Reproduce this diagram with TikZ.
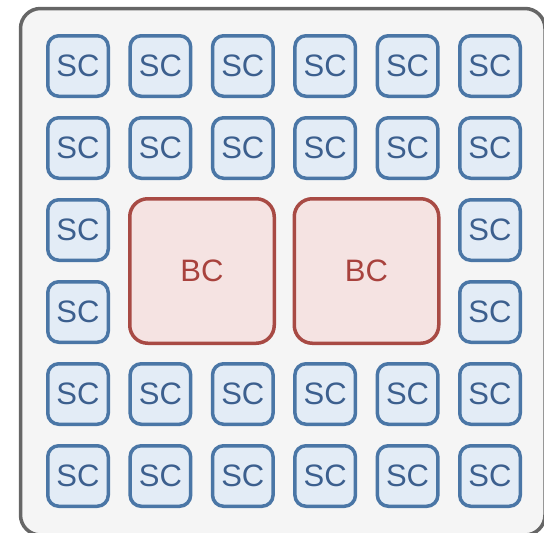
\documentclass[tikz,border=0pt]{standalone}
\usepackage{fontspec}
\setmainfont{Liberation Sans}
\definecolor{frameline}{HTML}{666666}
\definecolor{framefill}{HTML}{F5F5F5}
\definecolor{scline}{HTML}{4A76A6}
\definecolor{scfill}{HTML}{E3ECF6}
\definecolor{sctext}{HTML}{3C5F8E}
\definecolor{bcline}{HTML}{A84A44}
\definecolor{bcfill}{HTML}{F5E3E2}
\definecolor{bctext}{HTML}{A8423D}
\tikzset{
	scbox/.style={draw=scline, fill=scfill, text=sctext, line width=3.5pt, rounded corners=11pt,
		minimum size=60.5pt, inner sep=0pt, font=\fontsize{31}{31}\selectfont},
	bcbox/.style={draw=bcline, fill=bcfill, text=bctext, line width=3.5pt, rounded corners=18pt,
		minimum size=144.5pt, inner sep=0pt, font=\fontsize{31}{31}\selectfont}
}
\begin{document}
\begin{tikzpicture}[x=1pt, y=-1pt]
	\useasboundingbox (0,0) rectangle (544,533);
	\begin{scope}
		\clip (0,0) rectangle (544,533);
		\draw[frameline, fill=framefill, line width=3.5pt, rounded corners=20pt] (20.5,8.5) rectangle (545,535);
	\end{scope}
	% small cells, top and bottom rows
	\foreach \c in {0, 1, 2, 3, 4, 5}{
		\foreach \r in {0, 1, 4, 5}{
			\node[scbox] (sc-\r-\c) at (78+82.4*\c, 66+82*\r) {SC};
		}
	}
	% small cells, side columns
	\foreach \r in {2, 3}{
		\node[scbox] (sc-\r-0) at (78, 66+82*\r) {SC};
		\node[scbox] (sc-\r-5) at (490, 66+82*\r) {SC};
	}
	% big cells
	\node[bcbox] (bc-1) at (202, 271) {BC};
	\node[bcbox] (bc-2) at (366.5, 271) {BC};
\end{tikzpicture}
\end{document}
